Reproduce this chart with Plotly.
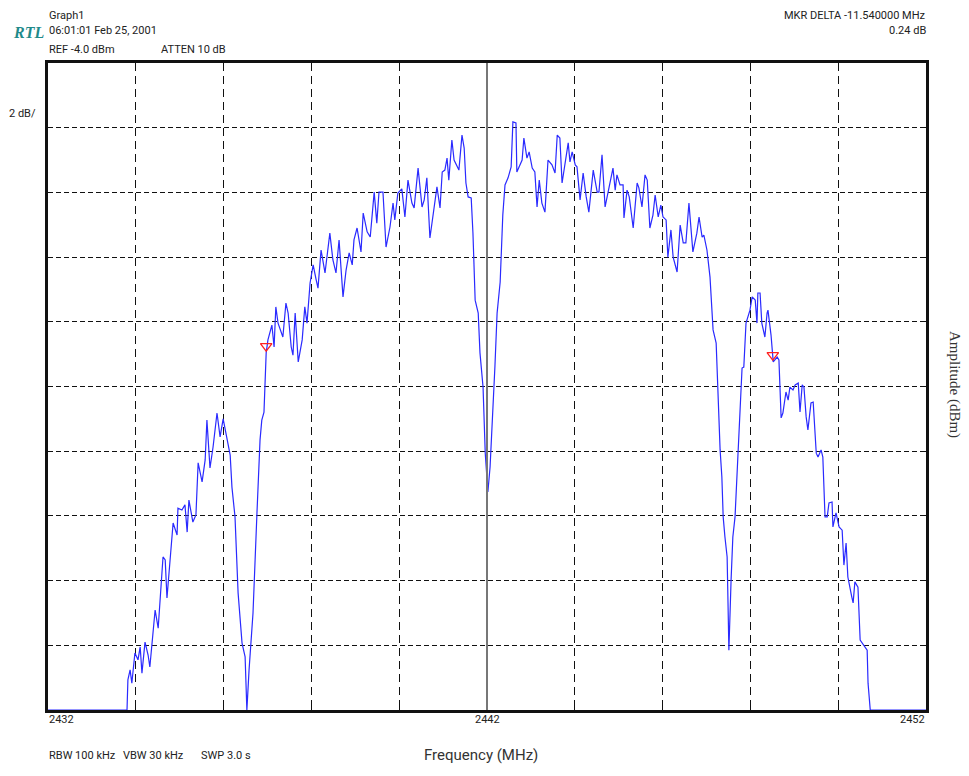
import plotly.graph_objects as go

# Spectrum trace: frequency (MHz) and amplitude (dBm)
freq_mhz = [
    2432.00, 2433.80, 2433.82, 2433.87, 2433.91, 2433.98, 2434.05, 2434.10, 2434.14, 2434.21,
    2434.28, 2434.32, 2434.44, 2434.51, 2434.62, 2434.67, 2434.71, 2434.78, 2434.85, 2434.94,
    2434.96, 2435.05, 2435.12, 2435.17, 2435.21, 2435.30, 2435.37, 2435.42, 2435.46, 2435.51,
    2435.58, 2435.62, 2435.69, 2435.76, 2435.85, 2435.92, 2435.99, 2436.08, 2436.15, 2436.19,
    2436.26, 2436.33, 2436.42, 2436.49, 2436.53, 2436.58, 2436.65, 2436.67, 2436.76, 2436.83,
    2436.87, 2436.92, 2436.97, 2437.01, 2437.10, 2437.15, 2437.19, 2437.24, 2437.35, 2437.42,
    2437.47, 2437.54, 2437.58, 2437.63, 2437.70, 2437.79, 2437.85, 2437.90, 2437.97, 2438.04,
    2438.11, 2438.15, 2438.22, 2438.31, 2438.42, 2438.49, 2438.56, 2438.63, 2438.72, 2438.79,
    2438.86, 2438.93, 2438.97, 2439.04, 2439.13, 2439.18, 2439.27, 2439.34, 2439.43, 2439.49,
    2439.54, 2439.63, 2439.70, 2439.79, 2439.86, 2439.90, 2439.97, 2440.06, 2440.13, 2440.20,
    2440.29, 2440.34, 2440.43, 2440.52, 2440.57, 2440.63, 2440.70, 2440.77, 2440.86, 2440.93,
    2440.98, 2441.04, 2441.09, 2441.13, 2441.20, 2441.25, 2441.32, 2441.36, 2441.43, 2441.48,
    2441.52, 2441.57, 2441.64, 2441.68, 2441.73, 2441.80, 2441.84, 2441.91, 2441.96, 2442.02,
    2442.07, 2442.11, 2442.18, 2442.23, 2442.30, 2442.36, 2442.41, 2442.48, 2442.55, 2442.59,
    2442.66, 2442.68, 2442.80, 2442.84, 2442.91, 2442.96, 2443.03, 2443.09, 2443.14, 2443.19,
    2443.25, 2443.32, 2443.39, 2443.48, 2443.55, 2443.60, 2443.66, 2443.71, 2443.78, 2443.85,
    2443.89, 2443.94, 2444.01, 2444.05, 2444.12, 2444.19, 2444.26, 2444.32, 2444.42, 2444.51,
    2444.55, 2444.62, 2444.69, 2444.76, 2444.87, 2444.92, 2444.96, 2445.03, 2445.10, 2445.12,
    2445.19, 2445.24, 2445.33, 2445.42, 2445.46, 2445.53, 2445.60, 2445.65, 2445.71, 2445.78,
    2445.83, 2445.90, 2445.96, 2446.01, 2446.08, 2446.12, 2446.19, 2446.24, 2446.33, 2446.40,
    2446.47, 2446.53, 2446.60, 2446.69, 2446.78, 2446.83, 2446.90, 2446.94, 2447.01, 2447.08,
    2447.15, 2447.22, 2447.26, 2447.31, 2447.35, 2447.38, 2447.42, 2447.47, 2447.49, 2447.51,
    2447.56, 2447.60, 2447.65, 2447.70, 2447.76, 2447.81, 2447.85, 2447.90, 2447.99, 2448.04,
    2448.11, 2448.15, 2448.17, 2448.22, 2448.26, 2448.33, 2448.38, 2448.40, 2448.47, 2448.52,
    2448.61, 2448.65, 2448.70, 2448.74, 2448.81, 2448.86, 2448.90, 2448.97, 2449.02, 2449.09,
    2449.13, 2449.18, 2449.22, 2449.27, 2449.31, 2449.38, 2449.43, 2449.50, 2449.54, 2449.61,
    2449.65, 2449.70, 2449.75, 2449.79, 2449.86, 2449.88, 2449.95, 2450.02, 2450.09, 2450.13,
    2450.18, 2450.22, 2450.31, 2450.34, 2450.38, 2450.45, 2450.50, 2450.57, 2450.66, 2450.68,
    2450.73, 2452.00,
]
amp_dbm = [
    -24.00, -24.00, -23.07, -22.76, -23.17, -22.24, -22.45, -22.05, -22.86, -21.90,
    -22.30, -22.67, -20.91, -21.47, -19.27, -19.36, -20.54, -19.36, -18.22, -18.59,
    -17.76, -17.82, -17.66, -18.50, -17.51, -18.19, -17.97, -16.36, -16.58, -16.95,
    -16.27, -15.04, -16.52, -15.87, -14.82, -15.56, -15.00, -15.65, -16.12, -17.11,
    -18.03, -20.38, -21.93, -22.36, -24.00, -22.76, -21.43, -21.00, -17.91, -15.65,
    -15.04, -14.79, -12.96, -12.56, -12.10, -12.78, -11.54, -12.04, -12.47, -11.42,
    -11.73, -12.78, -13.03, -11.73, -13.24, -12.56, -11.54, -12.04, -10.80, -10.24,
    -10.71, -10.96, -9.78, -10.49, -9.26, -10.09, -10.49, -9.47, -11.23, -10.40,
    -9.87, -10.24, -9.47, -9.10, -9.84, -8.64, -9.22, -9.38, -7.99, -8.95,
    -7.99, -7.99, -9.69, -9.07, -8.33, -8.85, -8.02, -7.89, -8.76, -7.62,
    -8.33, -8.48, -7.25, -8.45, -8.23, -7.55, -9.41, -8.64, -7.83, -8.48,
    -7.37, -7.31, -6.94, -7.62, -6.38, -7.00, -7.21, -7.31, -6.23, -6.63,
    -7.71, -8.14, -8.17, -9.26, -11.33, -11.73, -12.96, -14.02, -16.06, -17.26,
    -16.49, -15.44, -13.40, -11.73, -10.77, -8.70, -7.77, -7.55, -7.21, -5.82,
    -5.85, -7.37, -7.00, -6.32, -6.94, -6.75, -7.25, -7.37, -8.45, -7.62,
    -8.33, -8.61, -7.00, -7.15, -7.40, -6.23, -6.32, -7.71, -7.15, -6.47,
    -7.06, -6.75, -7.15, -7.21, -8.23, -7.40, -8.14, -8.61, -7.31, -7.99,
    -7.99, -6.84, -8.45, -8.02, -7.25, -7.93, -7.46, -7.77, -7.77, -8.79,
    -7.93, -8.14, -9.10, -7.71, -7.86, -8.45, -7.46, -7.62, -9.10, -8.70,
    -8.08, -8.76, -8.39, -8.76, -8.85, -10.00, -9.16, -10.00, -10.46, -9.01,
    -9.56, -9.56, -8.33, -9.84, -9.26, -8.76, -9.38, -9.32, -9.78, -10.62,
    -12.25, -12.66, -14.42, -15.96, -16.80, -18.03, -18.65, -19.27, -20.69, -22.15,
    -19.98, -18.65, -18.03, -16.49, -14.94, -13.43, -13.40, -12.04, -11.64, -11.23,
    -11.33, -12.04, -11.11, -11.11, -12.04, -12.47, -11.73, -11.64, -12.41, -13.24,
    -13.09, -13.18, -14.97, -14.82, -14.17, -14.42, -14.02, -14.11, -13.95, -13.89,
    -14.79, -13.95, -14.02, -14.94, -15.34, -14.51, -14.48, -16.06, -16.18, -15.96,
    -16.18, -18.03, -18.03, -17.60, -17.57, -18.34, -17.91, -18.34, -18.44, -19.52,
    -18.84, -19.89, -20.51, -20.69, -20.04, -20.20, -21.84, -21.99, -22.15, -23.17,
    -24.00, -24.00,
]

# Markers (MKR and delta marker)
marker_freq = [2436.97, 2448.51]
marker_amp = [-12.75, -13.03]

# Axis settings
x_range = [2432, 2452]
y_range = [-24, -4]   # REF -4.0 dBm, 2 dB/div
x_tick_labels = [2432, 2442, 2452]
center_freq = 2442

TEXT_FONT = "Roboto, Liberation Sans, Arial"
TXT = "#222222"

fig = go.Figure()
fig.add_trace(go.Scatter(
    x=freq_mhz, y=amp_dbm, mode="lines",
    line=dict(color="#2a2aff", width=1.2),
    hoverinfo="skip", showlegend=False,
))
fig.add_trace(go.Scatter(
    x=marker_freq, y=marker_amp, mode="markers",
    marker=dict(symbol="triangle-down-open", size=10, color="#ff2020",
                line=dict(width=1.3, color="#ff2020")),
    hoverinfo="skip", showlegend=False, cliponaxis=False,
))

# center frequency line (solid gray)
fig.add_shape(type="line", x0=center_freq, x1=center_freq, y0=0, y1=1,
              xref="x", yref="paper", line=dict(color="#777777", width=2))

annotations = []

def txt(text, x, y, xanchor="left", size=11, xref="paper", yanchor="middle", **kw):
    d = dict(text=text, x=x, y=y, xref=xref, yref="paper", xanchor=xanchor,
             yanchor=yanchor, showarrow=False, borderpad=0,
             font=dict(family=kw.pop("family", TEXT_FONT), size=size,
                       color=kw.pop("color", TXT)))
    d.update(kw)
    annotations.append(d)

# plot area in screen pixels (reference): left 48, top 63, 878 x 647
PW, PH, L, T = 878, 647, 48, 63

def px(xp):
    return (xp - L) / PW

def py(yp):
    return (T + PH - yp) / PH

txt("Graph1", px(48), py(8), yanchor="top")
txt("06:01:01 Feb 25, 2001", px(48), py(31))
txt("REF -4.0 dBm", px(48), py(49))
txt("ATTEN 10 dB", px(160), py(49))
txt("<i><b>RTL</b></i>", px(12), py(32), size=16,
    family="Liberation Serif, Times New Roman, serif", color="#1f8a8a")
txt("2 dB/", px(8), py(113))
txt("MKR DELTA -11.540000 MHz", px(927), py(8), xanchor="right", yanchor="top")
txt("0.24 dB", px(927), py(31), xanchor="right")

txt(str(x_tick_labels[0]), x_tick_labels[0], py(720), xanchor="left", xref="x")
txt(str(x_tick_labels[1]), x_tick_labels[1], py(720), xanchor="center", xref="x")
txt(str(x_tick_labels[2]), x_tick_labels[2], py(720), xanchor="right", xref="x")

txt("RBW 100 kHz", px(48), py(755))
txt("VBW 30 kHz", px(122), py(755))
txt("SWP 3.0 s", px(200), py(755))
txt("Frequency (MHz)", px(481), py(755), xanchor="center", size=15, color="#333333")
txt("Amplitude (dBm)", px(955), py(385), xanchor="center", size=15,
    family="Liberation Serif, Times New Roman, serif", color="#333333",
    textangle=90)

# page body has an 8px margin, so figure is 961x768 and margins are offset
fig.update_layout(
    width=961, height=768,
    margin=dict(l=40, r=43, t=55, b=66, pad=0),
    paper_bgcolor="white", plot_bgcolor="white",
    annotations=annotations,
    xaxis=dict(range=x_range, tick0=2432, dtick=2, showticklabels=False,
               showgrid=True, gridcolor="#111111", gridwidth=1, griddash="8px,5px",
               ticks="inside", ticklen=5, tickcolor="#111111",
               showline=True, linecolor="#111111", linewidth=2.5, mirror=True,
               zeroline=False, fixedrange=True),
    yaxis=dict(range=y_range, tick0=-24, dtick=2, showticklabels=False,
               showgrid=True, gridcolor="#111111", gridwidth=1, griddash="5px,3px",
               ticks="inside", ticklen=5, tickcolor="#111111",
               showline=True, linecolor="#111111", linewidth=2.5, mirror="ticks",
               zeroline=False, fixedrange=True),
)

fig.write_html("out.html")
